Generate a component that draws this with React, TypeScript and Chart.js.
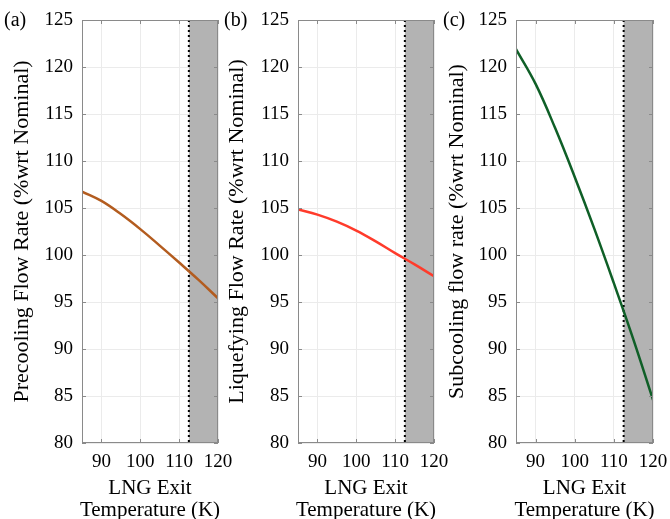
import React, { useEffect, useRef } from "react";
import { Chart, registerables } from "chart.js";
Chart.register(...registerables);

const temperatures = [85, 90, 95, 100, 105, 110, 115, 120];
const precoolingFlow = [106.75, 105.75, 104.35, 102.75, 101.0, 99.2, 97.35, 95.4];
const liquefyingFlow = [104.85, 104.3, 103.55, 102.6, 101.45, 100.2, 99.0, 97.75];
const subcoolingFlow = [121.9, 118.2, 113.5, 108.3, 102.8, 97.0, 91.0, 84.6];
const xTickValues = [90, 100, 110, 120];
const yTickValues = [80, 85, 90, 95, 100, 105, 110, 115, 120, 125];
const limitTemperature = 112.5;
const panelLabels = ["(a)", "(b)", "(c)"];
const yTitles = [
  "Precooling Flow Rate (%wrt Nominal)",
  "Liquefying Flow Rate (%wrt Nominal)",
  "Subcooling flow rate (%wrt Nominal)",
];
const xTitleLines = ["LNG Exit", "Temperature (K)"];
const seriesColors = ["#b35c1f", "#ff3b2b", "#0f5f27"];
const seriesData = [precoolingFlow, liquefyingFlow, subcoolingFlow];

const layouts = [
  { left: 0, width: 235, axisW: 82, padR: 17, titleX: 22, labelX: 4 },
  { left: 222, width: 230, axisW: 76, padR: 18, titleX: 15, labelX: 2 },
  { left: 440, width: 230, axisW: 76, padR: 17, titleX: 17, labelX: 3 },
];

const FONT = "'Liberation Serif', 'Times New Roman', serif";
const H = 519;

function Panel({ idx }: { idx: number }) {
  const ref = useRef<HTMLCanvasElement | null>(null);
  useEffect(() => {
    const lay = layouts[idx];
    const canvas = ref.current!;
    const deco = {
      id: "deco" + idx,
      beforeDatasetsDraw(chart: any) {
        const { ctx, chartArea: a, scales } = chart;
        const xl = scales.x.getPixelForValue(limitTemperature);
        ctx.save();
        ctx.fillStyle = "#b3b3b3";
        ctx.fillRect(xl, a.top, a.right - xl, a.bottom - a.top);
        ctx.strokeStyle = "#000";
        ctx.lineWidth = 2;
        ctx.setLineDash([2, 3]);
        ctx.beginPath();
        ctx.moveTo(xl, a.top);
        ctx.lineTo(xl, a.bottom);
        ctx.stroke();
        ctx.restore();
      },
      afterDraw(chart: any) {
        const { ctx, chartArea: a, scales } = chart;
        ctx.save();
        ctx.strokeStyle = "#8a8a8a";
        ctx.lineWidth = 1;
        ctx.strokeRect(a.left + 0.5, a.top + 0.5, a.right - a.left - 1, a.bottom - a.top - 1);
        ctx.beginPath();
        for (const v of yTickValues) {
          const y = Math.round(scales.y.getPixelForValue(v)) + 0.5;
          ctx.moveTo(a.left, y);
          ctx.lineTo(a.left + 4, y);
          ctx.moveTo(a.right, y);
          ctx.lineTo(a.right - 4, y);
        }
        for (const v of xTickValues) {
          const x = Math.round(scales.x.getPixelForValue(v)) + 0.5;
          ctx.moveTo(x, a.bottom);
          ctx.lineTo(x, a.bottom - 4);
          ctx.moveTo(x, a.top);
          ctx.lineTo(x, a.top + 4);
        }
        ctx.stroke();
        ctx.fillStyle = "#000";
        ctx.font = `21px ${FONT}`;
        ctx.textAlign = "center";
        ctx.textBaseline = "middle";
        const cx = (a.left + a.right) / 2;
        ctx.fillText(xTitleLines[0], cx, 488);
        ctx.fillText(xTitleLines[1], cx, 510);
        ctx.save();
        ctx.font = `22px ${FONT}`;
        ctx.translate(lay.titleX, (a.top + a.bottom) / 2);
        ctx.rotate(-Math.PI / 2);
        ctx.fillText(yTitles[idx], 0, 0);
        ctx.restore();
        ctx.font = `20px ${FONT}`;
        ctx.textAlign = "left";
        ctx.fillText(panelLabels[idx], lay.labelX, 21);
        ctx.restore();
      },
    };
    const chart = new Chart(canvas, {
      type: "line",
      data: {
        datasets: [
          {
            data: temperatures.map((t, i) => ({ x: t, y: seriesData[idx][i] })),
            borderColor: seriesColors[idx],
            borderWidth: 2.5,
            pointRadius: 0,
            tension: 0.4,
            fill: false,
          },
        ],
      },
      options: {
        responsive: false,
        animation: false,
        devicePixelRatio: 1,
        layout: { padding: { left: 0, right: lay.padR, top: 20, bottom: 0 } },
        plugins: { legend: { display: false }, tooltip: { enabled: false } },
        scales: {
          x: {
            type: "linear",
            min: 85,
            max: 120,
            afterBuildTicks: (s: any) => {
              s.ticks = xTickValues.map((v) => ({ value: v }));
            },
            afterFit: (s: any) => {
              s.height = 76;
              s.paddingLeft = 0;
              s.paddingRight = 0;
            },
            grid: { color: "#ebebeb", drawTicks: false, lineWidth: 1 },
            border: { display: false },
            ticks: {
              padding: 8,
              color: "#000",
              maxRotation: 0,
              autoSkip: false,
              font: { family: FONT, size: 19 },
            },
          },
          y: {
            type: "linear",
            min: 80,
            max: 125,
            afterBuildTicks: (s: any) => {
              s.ticks = yTickValues.map((v) => ({ value: v }));
            },
            afterFit: (s: any) => {
              s.width = lay.axisW;
              s.paddingTop = 0;
              s.paddingBottom = 0;
            },
            grid: { color: "#ebebeb", drawTicks: false, lineWidth: 1 },
            border: { display: false },
            ticks: {
              padding: 9,
              color: "#000",
              autoSkip: false,
              font: { family: FONT, size: 19 },
            },
          },
        },
      } as any,
      plugins: [deco],
    });
    return () => chart.destroy();
  }, [idx]);
  const lay = layouts[idx];
  return (
    <canvas
      ref={ref}
      width={lay.width}
      height={H}
      style={{ position: "absolute", left: lay.left, top: 0, width: lay.width, height: H }}
    />
  );
}

export default function App() {
  return (
    <div style={{ position: "fixed", left: 0, top: 0, width: 670, height: H, background: "#fff" }}>
      <Panel idx={0} />
      <Panel idx={1} />
      <Panel idx={2} />
    </div>
  );
}
